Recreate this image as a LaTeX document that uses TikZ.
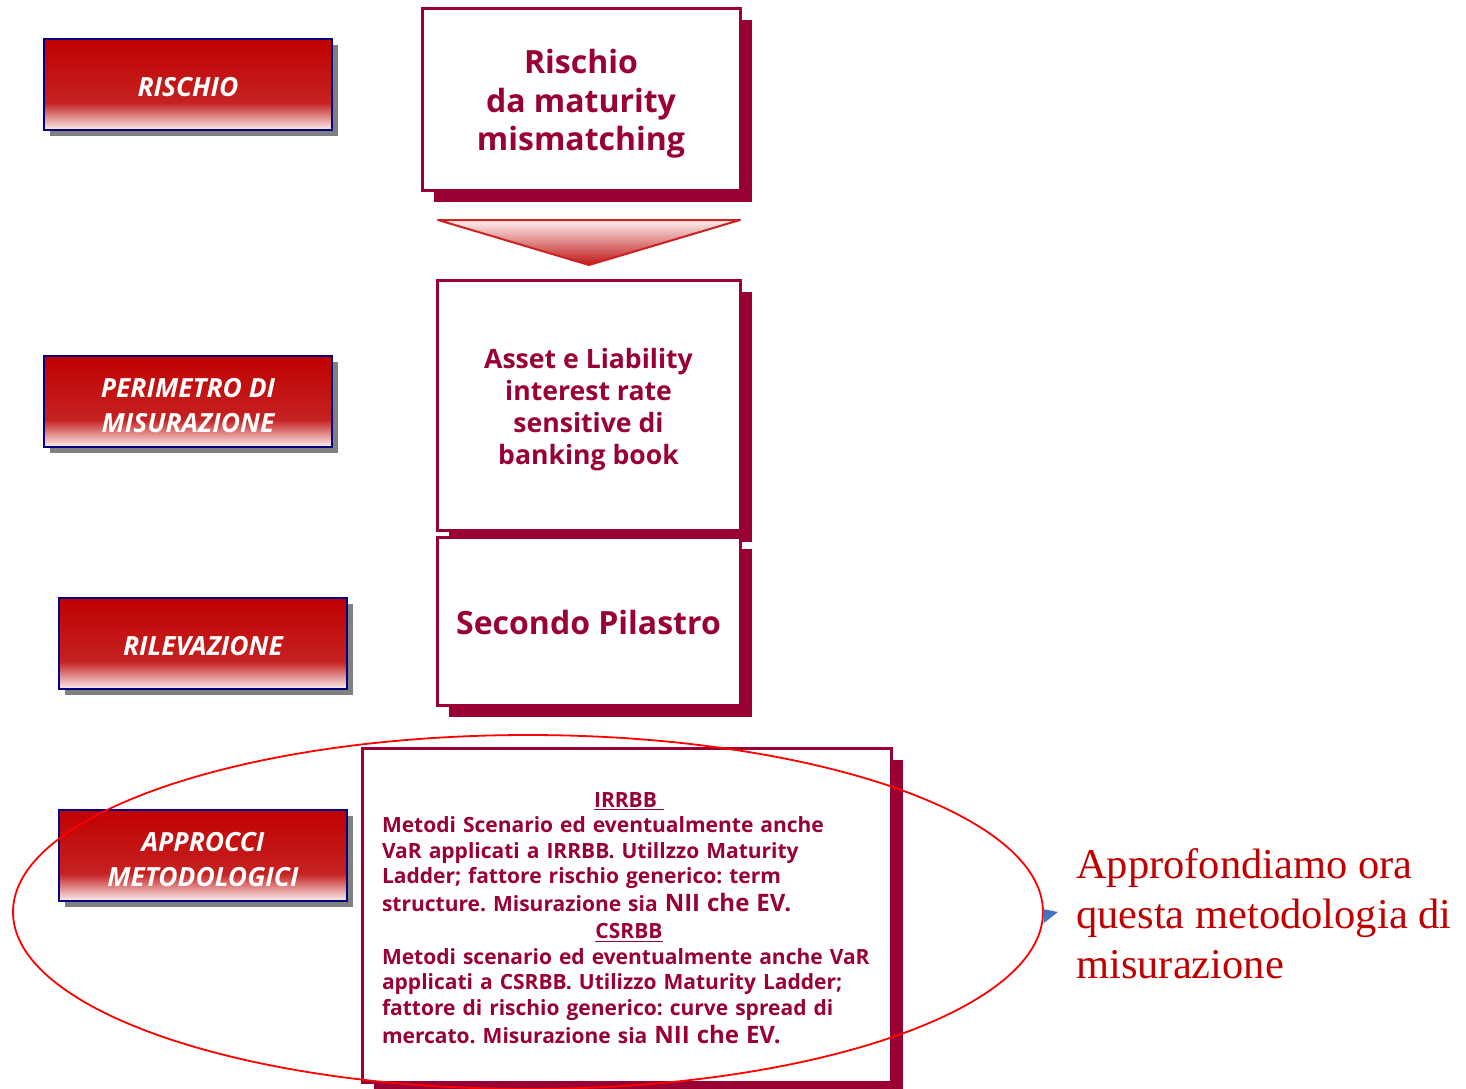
\documentclass[tikz,border=0pt]{standalone}
\usepackage{fontspec}
\setmainfont{Open Sans}
\newfontfamily\serifA{Liberation Serif}
\usetikzlibrary{shadows,shapes.geometric}
\definecolor{maroon}{HTML}{990033}
\definecolor{navyb}{HTML}{000080}
\definecolor{topred}{HTML}{C00000}
\definecolor{midred}{HTML}{C52222}
\definecolor{pinkw}{HTML}{FDF0F0}
\definecolor{redtxt}{HTML}{C00000}
\definecolor{bluetip}{HTML}{4472C4}
\definecolor{triline}{HTML}{CC2222}
\definecolor{tribottom}{HTML}{C01515}
\pgfdeclareverticalshading{redbox}{100bp}{color(0bp)=(pinkw); color(25bp)=(pinkw); color(40bp)=(midred); color(75bp)=(topred); color(100bp)=(topred)}
\newcommand{\niitext}{\fontsize{24}{25.5}\selectfont}
\newcommand{\thickul}[1]{\setbox0\hbox{#1}\leavevmode\rlap{\rule[-3pt]{\wd0}{1.3pt}}\box0}
\frenchspacing
\tikzset{
  labelbox/.style={draw=navyb, line width=2.5pt, shade, shading=redbox,
    minimum width=288pt, minimum height=91pt, inner sep=0pt,
    drop shadow={shadow xshift=6pt, shadow yshift=-6pt, fill=gray, opacity=1}},
  labeltext/.style={inner sep=0pt, align=center, text=white,
    font=\fontsize{26.4}{35}\selectfont\bfseries\itshape},
  mbox/.style={draw=maroon, line width=3pt, fill=white, inner sep=0pt,
    drop shadow={shadow xshift=12pt, shadow yshift=-12pt, fill=maroon, opacity=1}},
  mtext/.style={inner sep=0pt, align=center, text=maroon},
}
\begin{document}
\begin{tikzpicture}[x=1pt,y=-1pt]
\useasboundingbox (0,0) rectangle (1466,1088);
\fill[white] (0,0) rectangle (1466,1088);

\node[labelbox] (rischio) at (188,84.5) {};
\node[labeltext] (rischiotxt) at (188,87.5) {RISCHIO};
\node[labelbox] (perim) at (188,401.5) {};
\node[labeltext] (perimtxt) at (188,405.5) {PERIMETRO DI\\MISURAZIONE};
\node[labelbox] (rilev) at (203,643.5) {};
\node[labeltext] (rilevtxt) at (203,646.5) {RILEVAZIONE};
\node[labelbox] (approcci) at (203,855.5) {};
\node[labeltext] (approccitxt) at (203,859.5) {APPROCCI\\METODOLOGICI};

\node[mbox, minimum width=318pt, minimum height=182pt] (risk) at (581,99) {};
\node[mtext, font=\bfseries\fontsize{32}{38.5}\selectfont] (risktxt) at (581,104)
  {Rischio\\da maturity\\mismatching};

\draw[draw=triline, line width=2pt, line join=round, top color=pinkw, bottom color=tribottom]
  (438,220) -- (740,220) -- (589,265) -- cycle;

\node[mbox, minimum width=303pt, minimum height=250pt] (asset) at (588.5,405) {};
\node[mtext, font=\bfseries\fontsize{26.6}{32}\selectfont] (assettxt) at (588.5,410)
  {Asset e Liability\\interest rate\\sensitive di\\banking book};

\node[mbox, minimum width=303pt, minimum height=168pt] (secondo) at (588.5,621) {};
\node[mtext, font=\bfseries\fontsize{32}{36}\selectfont] (secondotxt) at (588.5,622)
  {Secondo Pilastro};

\node[mbox, minimum width=529pt, minimum height=334pt] (metodi) at (626.5,915) {};
\node[mtext, text width=494pt, align=left,
  font=\bfseries\fontsize{21}{25.5}\selectfont] (metoditxt) at (629,918)
  {\makebox[\linewidth]{\thickul{IRRBB\ }}\\
   Metodi Scenario ed eventualmente anche\\
   VaR applicati a IRRBB. Utillzzo Maturity\\
   Ladder; fattore rischio generico: term\\[2.5pt]
   structure. Misurazione sia {\niitext NII che EV.}\\[1.5pt]
   \makebox[\linewidth]{\thickul{CSRBB}}\\
   Metodi scenario ed eventualmente anche VaR\\
   applicati a CSRBB. Utilizzo Maturity Ladder;\\
   fattore di rischio generico: curve spread di\\[2.5pt]
   mercato. Misurazione sia {\niitext NII che EV.}};

\node[draw=red, line width=1.8pt, ellipse, minimum width=1030pt, minimum height=354pt,
  inner sep=0pt] (ell) at (528,912) {};

\fill[bluetip] (ell.east) ++(-1,-3) -- ++(15,3) -- ++(-14,11) -- cycle;

\node[anchor=west, inner sep=0pt, align=left, text=redtxt,
  font=\serifA\fontsize{42.5}{50}\selectfont] (note) at (1076,914)
  {Approfondiamo ora\\questa metodologia di\\misurazione};
\end{tikzpicture}
\end{document}
